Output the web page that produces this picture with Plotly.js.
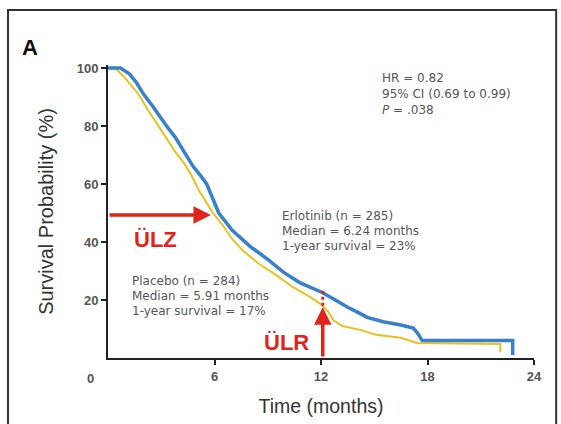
<!DOCTYPE html>
<html>
<head>
<meta charset="utf-8">
<script src="https://cdn.plot.ly/plotly-3.0.1.min.js"></script>
<style>html,body{margin:0;padding:0;background:#fff;}#chart{width:561px;height:424px;}</style>
</head>
<body>
<div id="chart"></div>
<script>
// Erlotinib (blue) Kaplan-Meier estimate
const erlotinibTime = [0, 0.7, 1.2, 1.6, 2.0, 2.5, 3.3, 3.8, 4.3, 4.8, 5.2, 5.56, 5.9, 6.24, 7.0, 8.0, 9.0, 9.9, 10.8, 12.1, 13.1, 13.5, 14.0, 14.6, 15.5, 16.5, 17.2, 17.45, 17.7, 22.8, 22.8];
const erlotinibSurv = [100, 100, 98, 95, 91, 87, 80, 76, 71, 66, 63, 60, 55, 50, 44, 38.5, 34, 29.5, 26, 22.5, 19, 17.5, 16, 14, 12.5, 11.4, 10.3, 8.5, 6, 6, 1];
// Placebo (yellow)
const placeboTime = [0, 0.4, 0.9, 1.3, 1.71, 2.2, 2.84, 3.3, 3.8, 4.3, 4.7, 5.1, 5.5, 5.91, 6.5, 7.0, 7.6, 8.5, 9.5, 10.4, 11.4, 12.0, 12.4, 12.7, 13.2, 14.2, 15.1, 16.5, 17.4, 22.1, 22.1];
const placeboSurv = [100, 100, 97, 94, 91, 86, 80, 76, 71, 67, 63, 58, 54, 50, 45.5, 41, 37, 32.5, 28.5, 24.5, 21, 18.5, 16, 13, 11, 9.7, 8, 7, 5.2, 4.8, 2];
// Axis ticks
const xTickVals = [6, 12, 18, 24];
const xTickText = ['6', '12', '18', '24'];
const yTickVals = [20, 40, 60, 80, 100];
const yTickText = ['20', '40', '60', '80', '100'];

const FONT = 'Liberation Sans, Arial, sans-serif';
const NOTE_FONT = 'DejaVu Sans, Verdana, sans-serif';
const RED = '#e2231a';
const TXT = '#555';

const traces = [
  {x: placeboTime, y: placeboSurv, mode: 'lines', line: {color: '#e8c220', width: 2, shape: 'linear'}, name: 'Placebo', hoverinfo: 'skip'},
  {x: erlotinibTime, y: erlotinibSurv, mode: 'lines', line: {color: '#3680cc', width: 3.5, shape: 'linear'}, name: 'Erlotinib', hoverinfo: 'skip'}
];

function txt(x, y, text, extra) {
  return Object.assign({x: x, y: y, xref: 'x', yref: 'y', text: text, showarrow: false,
    xanchor: 'left', yanchor: 'middle', font: {family: NOTE_FONT, size: 12, color: TXT}}, extra || {});
}

const annotations = [
  {xref: 'paper', yref: 'paper', x: -0.183, y: 1.061, text: '<b>A</b>', showarrow: false,
   xanchor: 'center', yanchor: 'middle', font: {family: FONT, size: 22, color: '#111'}},
  {xref: 'paper', yref: 'paper', x: -0.042, y: 0, text: '0', showarrow: false, xanchor: 'center', yanchor: 'top', yshift: -11,
   font: {family: FONT, size: 13, color: '#555', weight: 'bold'}},
  txt(15.32, 96.6, 'HR = 0.82'),
  txt(15.32, 91.0, '95% CI (0.69 to 0.99)'),
  txt(15.32, 85.5, '<i>P</i> = .038'),
  txt(9.69, 49.0, 'Erlotinib (n = 285)'),
  txt(9.69, 43.8, 'Median = 6.24 months'),
  txt(9.69, 38.6, '1-year survival = 23%'),
  txt(1.24, 26.6, 'Placebo (n = 284)'),
  txt(1.24, 21.4, 'Median = 5.91 months'),
  txt(1.24, 16.2, '1-year survival = 17%'),
  {xref: 'x', yref: 'y', x: 2.7, y: 41, text: '<b>ÜLZ</b>', showarrow: false, xanchor: 'center', yanchor: 'middle',
   font: {family: FONT, size: 22, color: RED}},
  {xref: 'x', yref: 'y', x: 10.08, y: 5.5, text: '<b>ÜLR</b>', showarrow: false, xanchor: 'center', yanchor: 'middle',
   font: {family: FONT, size: 22, color: RED}},
  {xref: 'x', yref: 'y', x: 5.8, y: 49.3, axref: 'x', ayref: 'y', ax: 0, ay: 49.3, text: '', showarrow: true,
   arrowhead: 2, arrowsize: 1, arrowwidth: 3.5, arrowcolor: RED},
  {xref: 'x', yref: 'y', x: 12.1, y: 17.5, axref: 'x', ayref: 'y', ax: 12.1, ay: 0, text: '', showarrow: true,
   arrowhead: 2, arrowsize: 1, arrowwidth: 3.5, arrowcolor: RED}
];

const shapes = [
  {type: 'line', xref: 'x', yref: 'y', x0: 12.1, x1: 12.1, y0: 18, y1: 23.5, line: {color: RED, width: 3, dash: 'dot'}},
  {type: 'rect', xref: 'paper', yref: 'paper', x0: -0.2347, x1: 1.052, y0: -0.26, y1: 1.188,
   line: {color: '#333', width: 2}, fillcolor: 'rgba(0,0,0,0)'}
];

const layout = {
  width: 561, height: 424,
  margin: {l: 108, r: 27, t: 65, b: 66},
  paper_bgcolor: '#fff', plot_bgcolor: '#fff',
  showlegend: false,
  font: {family: FONT},
  xaxis: {
    range: [0, 24], showgrid: false, zeroline: false, showline: true, linecolor: '#222', linewidth: 2,
    ticks: 'outside', ticklen: 5, tickwidth: 2, tickcolor: '#222',
    tickvals: xTickVals, ticktext: xTickText,
    tickfont: {family: FONT, size: 13, color: '#555', weight: 'bold'},
    title: {text: 'Time (months)', font: {family: FONT, size: 19.5, color: '#333'}, standoff: 17}
  },
  yaxis: {
    range: [0, 101.03], showgrid: false, zeroline: false, showline: true, linecolor: '#222', linewidth: 2,
    ticks: 'outside', ticklen: 5, tickwidth: 2, tickcolor: '#222',
    tickvals: yTickVals, ticktext: yTickText,
    tickfont: {family: FONT, size: 13, color: '#555', weight: 'bold'},
    title: {text: 'Survival Probability (%)', font: {family: FONT, size: 20, color: '#333'}, standoff: 18}
  },
  annotations: annotations,
  shapes: shapes
};

Plotly.newPlot('chart', traces, layout, {displayModeBar: false, staticPlot: true});
</script>
</body>
</html>
